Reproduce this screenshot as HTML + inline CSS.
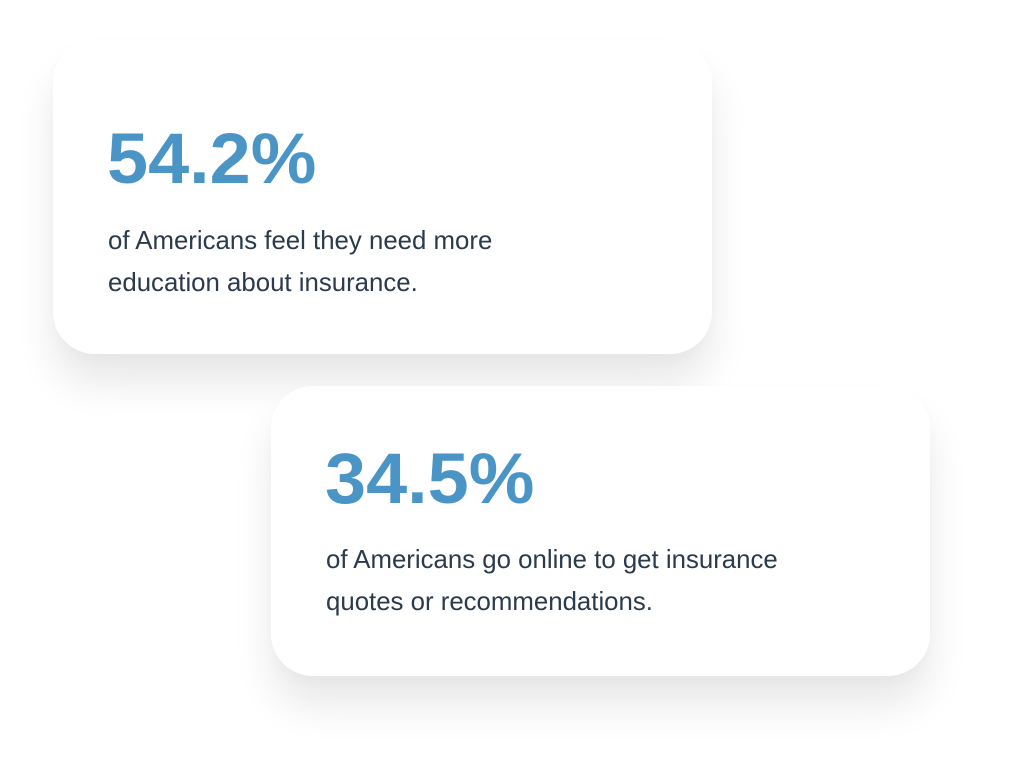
<!DOCTYPE html>
<html><head><style>
body{margin:0;width:1024px;height:773px;background:#fff;position:relative;overflow:hidden;font-family:"Liberation Sans",sans-serif}
.card{position:absolute;background:#fff;border-radius:42px;box-shadow:0 30px 40px rgba(0,0,0,0.09),0 6px 14px rgba(0,0,0,0.02)}
.num{position:absolute;font-weight:bold;color:#4a94c6;font-size:71px;line-height:70px;transform:scaleX(1.04);transform-origin:left top;white-space:nowrap}
.txt{position:absolute;color:#2b3a4d;font-size:25.8px;line-height:42px;white-space:nowrap}
</style></head><body>
<div class="card" style="left:53px;top:40px;width:659px;height:314px"></div>
<div class="card" style="left:271px;top:386px;width:659px;height:290px"></div>
<div class="num" style="left:107px;top:125px">54.2%</div>
<div class="txt" style="left:108px;top:220px">of Americans feel they need more<br>education about insurance.</div>
<div class="num" style="left:325px;top:445px">34.5%</div>
<div class="txt" style="left:326px;top:539px">of Americans go online to get insurance<br>quotes or recommendations.</div>
</body></html>
